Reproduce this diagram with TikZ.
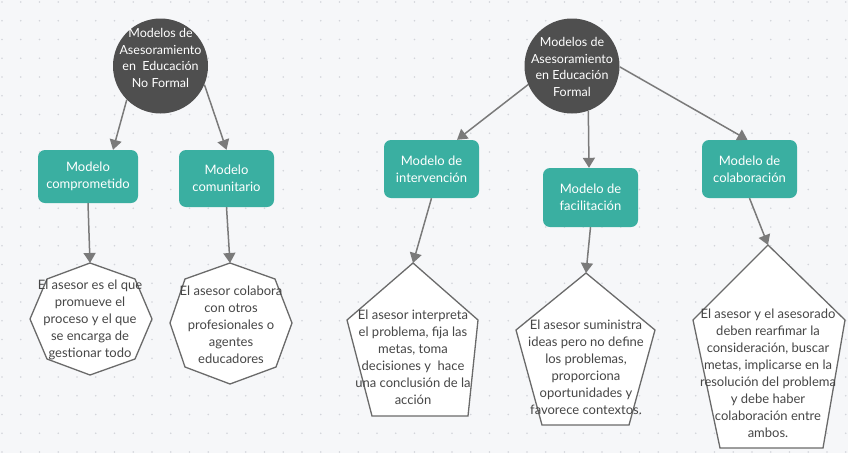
\documentclass[tikz,border=0pt]{standalone}
\usepackage{fontspec}
\setmainfont{Lato}
\usetikzlibrary{arrows.meta,calc}
\definecolor{bgc}{HTML}{F6F7F9}
\definecolor{dotc}{HTML}{D2D4DA}
\definecolor{tealc}{HTML}{3AAFA1}
\definecolor{hubc}{HTML}{4F4F4F}
\definecolor{linec}{HTML}{7A7A7A}
\definecolor{shapec}{HTML}{6A6A6A}
\definecolor{txtc}{HTML}{464646}
\begin{document}
\begin{tikzpicture}[x=1pt,y=-1pt,
  every node/.style={font=\fontsize{13}{17}\selectfont, inner sep=0pt},
  hub/.style={circle, fill=hubc, draw=none, minimum size=95pt},
  hubtext/.style={text=white, align=center, font=\fontsize{12.5}{16.5}\selectfont},
  modelbox/.style={rectangle, rounded corners=7pt, fill=tealc, draw=none, text=white, align=center},
  conn/.style={draw=linec, line width=1.5pt, -{Triangle[length=10pt,width=12pt]}},
  outline/.style={draw=shapec, line width=1.3pt, fill=white, line join=miter},
  desc/.style={text=txtc, align=center}
]
\fill[bgc] (0,0) rectangle (848,453);
\useasboundingbox (0,0) rectangle (848,453);
\foreach \i in {0,...,45}{
  \foreach \j in {0,...,24}{
    \fill[dotc] ({2+18.75*\i},{2+18.75*\j}) circle (0.8pt);
  }
}

% hubs
\node[hub] (c1) at (160.5,66) {};
\node[hubtext] (c1t) at (160.5,58) {Modelos de\\Asesoramiento\\en\ \ Educación\\No Formal};
\node[hub] (c2) at (572,66) {};
\node[hubtext] (c2t) at (572,67) {Modelos de\\Asesoramiento\\en Educación\\Formal};

% model boxes
\node[modelbox, minimum width=100pt, minimum height=53pt] (b1) at (88,176.5) {Modelo\\comprometido};
\node[modelbox, minimum width=95pt, minimum height=57pt] (b2) at (226.5,178.5) {Modelo\\comunitario};
\node[modelbox, minimum width=95pt, minimum height=58pt] (b3) at (431.5,169) {Modelo de\\intervención};
\node[modelbox, minimum width=95pt, minimum height=59pt] (b4) at (590.5,197.5) {Modelo de\\facilitación};
\node[modelbox, minimum width=95pt, minimum height=58pt] (b5) at (749.5,169) {Modelo de\\colaboración};

% arrows hub -> boxes
\draw[conn] (c1.225) -- ([xshift=25pt]b1.north);
\draw[conn] (c1.337) -- (b2.north);
\draw[conn] (c2.203) -- ([xshift=25.5pt]b3.north);
\draw[conn] (c2.290) -- ([xshift=-1.5pt]b4.north);
\draw[conn] (c2.359) -- ([xshift=-2pt]b5.north);

% octagon 1
\coordinate (o1top) at (90,263);
\draw[outline] (o1top) -- (135,279) -- (152,319) -- (135,359) -- (90,375) -- (47,359) -- (30,319) -- (47,279) -- cycle;
\node[desc] (o1t) at (90,320) {El asesor es el que\\promueve el\\proceso y el que\\se encarga de\\gestionar todo};

% octagon 2
\coordinate (o2top) at (230,263);
\draw[outline] (o2top) -- (275,279) -- (292,323) -- (276,367) -- (230,384) -- (185,367) -- (170,323) -- (185,279) -- cycle;
\node[desc] (o2t) at (231,325) {El asesor colabora\\con otros\\profesionales o\\agentes\\educadores};

% pentagon 1
\coordinate (p1top) at (413,263);
\draw[outline] (p1top) -- (478,320) -- (468,416) -- (372,416) -- (347,320) -- cycle;
\node[desc] (p1t) at (413,357.5) {El asesor interpreta\\el problema, fija las\\metas, toma\\decisiones y\ \ hace\\una conclusión de la\\acción};

% pentagon 2
\coordinate (p2top) at (586,273);
\draw[outline] (p2top) -- (655,330) -- (629,425) -- (542,425) -- (516,330) -- cycle;
\node[desc] (p2t) at (586,367) {El asesor suministra\\ideas pero no define\\los problemas,\\proporciona\\oportunidades y\\favorece contextos.};

% pentagon 3
\coordinate (p3top) at (768,245);
\draw[outline] (p3top) -- (845,320) -- (823,448) -- (720,448) -- (693,320) -- cycle;
\node[desc] (p3t) at (768,373) {El asesor y el asesorado\\deben rearfimar la\\consideración, buscar\\metas, implicarse en la\\resolución del problema\\y debe haber\\colaboración entre\\ambos.};

% arrows boxes -> shapes
\draw[conn] (b1.south) -- (o1top);
\draw[conn] (b2.south) -- (o2top);
\draw[conn] (b3.south) -- (p1top);
\draw[conn] (b4.south) -- (p2top);
\draw[conn] (b5.south) -- (p3top);
\end{tikzpicture}
\end{document}
